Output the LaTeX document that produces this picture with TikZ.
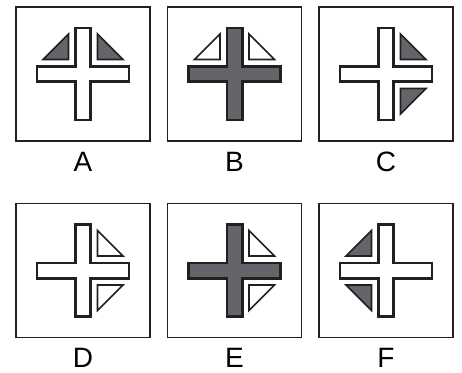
\documentclass[tikz,border=0pt]{standalone}
\usepackage{fontspec}
\setmainfont{Liberation Sans}
\usetikzlibrary{positioning}
\definecolor{crossgray}{RGB}{100,101,106}
\definecolor{inkline}{RGB}{35,31,32}

\begin{document}
\begin{tikzpicture}[x=1pt, y=-1pt,
    panelbox/.style={draw=inkline, line width=1.6pt, minimum size=134pt, inner sep=0pt},
    paneltag/.style={font=\fontsize{28}{30}\selectfont, inner sep=0pt},
    crossline/.style={draw=inkline, line width=2.8pt, line join=miter},
    triline/.style={draw=inkline, line width=1.6pt, line join=miter}]
  \def\w{7.6}   % half bar width
  \def\L{46}    % arm length
  \def\ti{14.5} % triangle inner offset
  \def\to{40}   % triangle outer offset
  \useasboundingbox (0,0) rectangle (462,372);

  % panels: name / centre / cross fill / triangle fill / quadrants
  \foreach \name/\cx/\cy/\cfill/\tfill/\quads in {
      A/83/74/white/crossgray/{-1/-1,1/-1},
      B/234.5/74/crossgray/white/{-1/-1,1/-1},
      C/386/74/white/crossgray/{1/-1,1/1},
      D/83/270.5/white/white/{1/-1,1/1},
      E/234.5/270.5/crossgray/white/{1/-1,1/1},
      F/386/270.5/white/crossgray/{-1/-1,-1/1}} {
    \node[panelbox] (box\name) at (\cx,\cy) {};
    \node[paneltag] (tag\name) at (\cx,\cy+87.5) {\name};
    \begin{scope}[shift={(\cx,\cy)}]
      \draw[crossline, fill=\cfill] (-\w,-\L) -- (\w,-\L) -- (\w,-\w) -- (\L,-\w)
        -- (\L,\w) -- (\w,\w) -- (\w,\L) -- (-\w,\L) -- (-\w,\w) -- (-\L,\w)
        -- (-\L,-\w) -- (-\w,-\w) -- cycle;
      \foreach \sx/\sy in \quads {
        \draw[triline, fill=\tfill] (\sx*\ti,\sy*\ti) -- (\sx*\to,\sy*\ti)
          -- (\sx*\ti,\sy*\to) -- cycle;
      }
    \end{scope}
  }
\end{tikzpicture}
\end{document}
